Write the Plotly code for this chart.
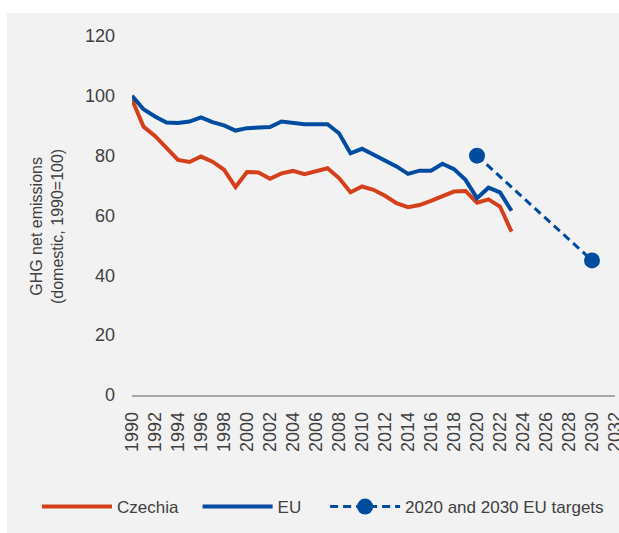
import plotly.graph_objects as go

years = list(range(1990, 2024))
czechia = [98.8, 89.7, 86.6, 82.5, 78.6, 77.9, 79.7, 78.0, 75.3, 69.5,
           74.5, 74.4, 72.3, 74.1, 74.9, 73.8, 74.9, 75.8, 72.5, 67.8,
           69.7, 68.6, 66.6, 64.1, 62.8, 63.5, 64.9, 66.3, 68.0, 68.2,
           64.3, 65.4, 63.0, 54.6]
eu = [100.0, 95.5, 93.1, 91.1, 90.9, 91.4, 92.8, 91.2, 90.1, 88.4,
      89.2, 89.3, 89.6, 91.4, 90.9, 90.5, 90.5, 90.5, 87.5, 80.8,
      82.3, 80.3, 78.6, 76.4, 73.9, 75.0, 75.0, 77.3, 75.5, 71.9,
      65.8, 69.3, 67.7, 61.6]
target_years = [2020, 2030]
target_values = [80, 45]
x_ticks = list(range(1990, 2033, 2))
y_ticks = list(range(0, 121, 20))

RED = "#D5401C"
BLUE = "#004D9F"
GREY_BG = "#F2F2F2"
TXT = "#404040"
FONT = "Liberation Sans"
NB = "\u00a0"

W, H = 619, 533
L, R, T, B = 132, 4, 36, 138
pw = W - L - R
ph = H - T - B

fig = go.Figure()
fig.add_trace(go.Scatter(x=years, y=czechia, mode="lines", name="Czechia" + NB * 3,
                         line=dict(color=RED, width=4)))
fig.add_trace(go.Scatter(x=years, y=eu, mode="lines", name="EU" + NB * 4,
                         line=dict(color=BLUE, width=4)))
fig.add_trace(go.Scatter(x=target_years, y=target_values, mode="lines+markers",
                         name="2020 and 2030 EU targets",
                         line=dict(color=BLUE, width=3, dash="8px,5px"),
                         marker=dict(size=16, color=BLUE), cliponaxis=False))

# grey background panel
fig.add_shape(type="rect", xref="paper", yref="paper",
              x0=(7 - L) / pw, x1=(W - L) / pw,
              y0=-(H - T - ph) / ph, y1=(H - 13 - B) / ph,
              fillcolor=GREY_BG, line=dict(width=0), layer="below")

fig.add_annotation(text="GHG net emissions<br>(domestic, 1990=100)",
                   xref="paper", yref="paper",
                   x=(47 - L) / pw, y=(H - B - 227) / ph,
                   xanchor="center", yanchor="middle", textangle=-90,
                   showarrow=False, font=dict(family=FONT, size=16, color=TXT))

fig.update_layout(
    width=W, height=H,
    margin=dict(l=L, r=R, t=T, b=B, autoexpand=False),
    paper_bgcolor="white",
    plot_bgcolor=GREY_BG,
    font=dict(family=FONT, size=17, color=TXT),
    showlegend=True,
    legend=dict(orientation="h", x=(37 - L) / pw, xanchor="left",
                y=-(507 - (H - B)) / ph, yanchor="middle",
                bgcolor="rgba(0,0,0,0)", itemwidth=70,
                font=dict(family=FONT, size=17, color=TXT)),
)
fig.update_xaxes(range=[1990, 2032], tickvals=x_ticks, tickangle=-90,
                 showgrid=False, zeroline=False, showline=True,
                 linecolor="#A6A6A6", linewidth=1.5, ticks="",
                 ticklabelstandoff=8, ticklabeloverflow="allow",
                 automargin=False,
                 tickfont=dict(family=FONT, size=18, color=TXT))
fig.update_yaxes(range=[0, 120], tickvals=y_ticks, showgrid=False,
                 zeroline=False, showline=False, ticks="",
                 ticklabelstandoff=16, automargin=False,
                 tickfont=dict(family=FONT, size=18, color=TXT))

fig.write_html("out.html",
               config={"displayModeBar": False},
               post_script="document.body.style.margin='0';"
                           "document.body.style.overflow='hidden';")
